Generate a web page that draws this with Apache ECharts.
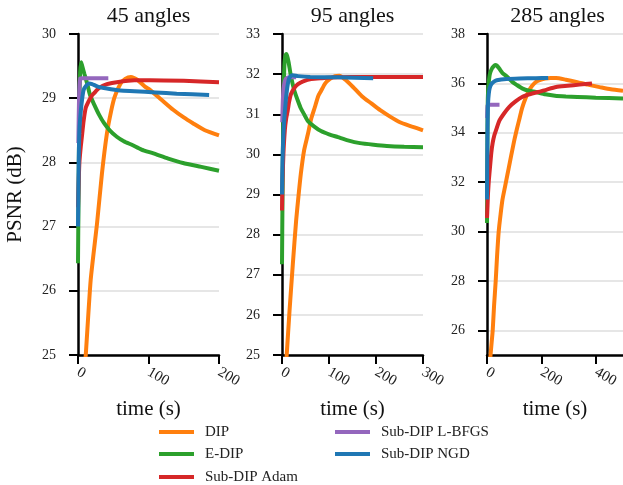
<!DOCTYPE html>
<html>
<head>
<meta charset="utf-8">
<script src="https://cdn.jsdelivr.net/npm/echarts@6/dist/echarts.min.js"></script>
<style>
  html, body { margin: 0; padding: 0; background: #fff; }
  #chart { width: 623px; height: 485px; }
</style>
</head>
<body>
<div id="chart"></div>
<script>
// ---- Data (time in s, PSNR in dB) ----
const panelTitles = ['45 angles', '95 angles', '285 angles'];
const seriesNames = ['DIP', 'E-DIP', 'Sub-DIP Adam', 'Sub-DIP L-BFGS', 'Sub-DIP NGD'];
const xMax = [200, 300, 500];
const xInterval = [100, 100, 200];
const yMax = [30, 33, 38];
const yTicks45 = [25, 26, 27, 28, 29, 30];
const yTicks95 = [25, 26, 27, 28, 29, 30, 31, 32, 33];
const yTicks285 = [26, 28, 30, 32, 34, 36, 38];

// 45 angles
const dip45 = [[8,24.6],[11,25],[18,26.17],[27,27.05],[34,27.83],[41,28.45],[47,28.8],[52,29.02],[60,29.22],[67,29.3],[75,29.33],[85,29.28],[95,29.18],[102,29.13],[118,28.98],[135,28.82],[150,28.7],[163,28.61],[180,28.5],[200,28.42]];
const edip45 = [[0,26.43],[1,27.8],[2,28.9],[3,29.4],[4.5,29.56],[6,29.5],[9,29.38],[13,29.23],[17,29.05],[23,28.9],[30,28.74],[37,28.61],[45,28.5],[55,28.4],[65,28.33],[77,28.27],[90,28.2],[107,28.14],[128,28.06],[149,27.99],[175,27.93],[200,27.87]];
const adam45 = [[0,27.3],[1,27.7],[2,28.0],[4,28.25],[6,28.45],[8,28.65],[11,28.85],[15,28.95],[19,29.03],[23,29.08],[30,29.16],[41,29.22],[55,29.25],[80,29.28],[102,29.28],[150,29.27],[200,29.25]];
const lbfgs45 = [[0.5,28.3],[1.5,29.0],[3,29.3],[5,29.31],[43,29.31]];
const ngd45 = [[0,27.0],[1,28.0],[2,28.5],[4,28.8],[6,29.0],[8,29.13],[12,29.2],[16,29.23],[20,29.22],[28,29.18],[41,29.15],[60,29.12],[80,29.11],[110,29.09],[140,29.07],[186,29.05]];

// 95 angles
const dip95 = [[7,24.5],[10,25],[16,26.1],[23,27.26],[30,28.34],[35,28.95],[40,29.51],[47,30.1],[55,30.5],[62,30.88],[70,31.18],[77,31.45],[83,31.58],[92,31.77],[102,31.88],[113,31.95],[122,31.96],[135,31.86],[151,31.68],[170,31.45],[190,31.27],[209,31.1],[230,30.94],[251,30.8],[275,30.7],[300,30.6]];
const edip95 = [[0,27.26],[1,28.8],[2,30.2],[3.5,31.5],[5,32.2],[7,32.45],[9,32.5],[11,32.45],[14,32.3],[19,31.95],[26,31.6],[34,31.33],[40,31.15],[47,31.0],[55,30.83],[68,30.7],[83,30.58],[100,30.5],[119,30.43],[140,30.35],[166,30.28],[195,30.24],[223,30.21],[260,30.19],[300,30.18]];
const adam95 = [[0,28.6],[1,29.3],[3,30.0],[6,30.6],[9,30.9],[12,31.08],[15,31.3],[19,31.5],[26,31.65],[34,31.75],[45,31.82],[62,31.88],[85,31.9],[119,31.92],[180,31.93],[240,31.93],[300,31.93]];
const lbfgs95 = [[0.5,30.8],[2,31.4],[4,31.7],[8,31.88],[15,31.92],[30,31.92]];
const ngd95 = [[0,29.0],[1,29.8],[3,30.5],[5,30.9],[8,31.33],[11,31.65],[14,31.85],[17,31.93],[22,31.97],[34,31.95],[60,31.93],[119,31.92],[194,31.9]];

// 285 angles
const dip285 = [[10,24.5],[13,25],[17,25.5],[21,26.0],[26,27.0],[32,28.0],[37,29.0],[43,30.0],[50,30.7],[57,31.3],[66,31.8],[75,32.3],[84,32.8],[93,33.3],[102,33.78],[111,34.2],[120,34.6],[129,35.0],[141,35.38],[154,35.7],[166,35.9],[179,36.05],[196,36.14],[214,36.2],[235,36.22],[254,36.22],[290,36.15],[332,36.05],[370,35.95],[414,35.85],[455,35.76],[500,35.7]];
const edip285 = [[0,30.35],[1,32.5],[2,34.5],[3,35.4],[5,35.85],[8,36.2],[11,36.4],[18,36.6],[25,36.7],[30,36.74],[36,36.72],[45,36.6],[57,36.42],[71,36.3],[82,36.18],[93,36.06],[110,35.93],[129,35.8],[154,35.7],[179,35.65],[214,35.56],[250,35.5],[290,35.47],[332,35.45],[400,35.42],[500,35.39]];
const adam285 = [[0,30.55],[2,31.1],[4,31.6],[7,32.1],[11,32.6],[16,33.2],[21,33.6],[27,33.9],[33,34.1],[46,34.5],[64,34.8],[82,35.05],[105,35.27],[129,35.45],[160,35.57],[189,35.65],[220,35.75],[254,35.85],[296,35.9],[340,35.95],[386,36.0]];
const lbfgs285 = [[0.5,34.6],[2,35.1],[4,35.13],[46,35.13]];
const ngd285 = [[0,31.3],[1,33.0],[2,34.3],[3,35.0],[5,35.4],[8,35.7],[12,35.88],[18,36.0],[27,36.08],[36,36.13],[71,36.18],[120,36.2],[180,36.21],[225,36.22]];

const panelData = [
  [dip45, edip45, adam45, lbfgs45, ngd45],
  [dip95, edip95, adam95, lbfgs95, ngd95],
  [dip285, edip285, adam285, lbfgs285, ngd285]
];
const yTickLists = [yTicks45, yTicks95, yTicks285];

// ---- Styles ----
const colors = ['#ff7f0e', '#2ca02c', '#d62728', '#9467bd', '#1f77b4'];
const FONT = '"Liberation Serif", "Times New Roman", serif';
const gridLefts = [78, 282, 487];
const gridTop = 34, gridW = 141, gridH = 321;

const grid = gridLefts.map(l => ({ left: l, top: gridTop, width: gridW, height: gridH }));

const xAxis = gridLefts.map((l, i) => ({
  type: 'value', gridIndex: i, min: 0, max: xMax[i], interval: xInterval[i],
  name: 'time (s)', nameLocation: 'middle', nameGap: 44,
  nameTextStyle: { fontFamily: FONT, fontSize: 21, color: '#111' },
  axisLine: { show: true, lineStyle: { color: '#000', width: 2.5 } },
  axisTick: { show: true, length: 9, lineStyle: { color: '#000', width: 2 } },
  axisLabel: { rotate: -30, margin: 16, fontFamily: FONT, fontSize: 15, color: '#222',
               showMaxLabel: i === 2 ? false : true },
  splitLine: { show: false }
}));

const yAxis = gridLefts.map((l, i) => ({
  type: 'value', gridIndex: i, min: 25, max: yMax[i],
  name: i === 0 ? 'PSNR (dB)' : '', nameLocation: 'middle', nameGap: 52, nameRotate: 90,
  nameTextStyle: { fontFamily: FONT, fontSize: 21, color: '#111' },
  axisLine: { show: true, lineStyle: { color: '#000', width: 2.5 } },
  axisTick: { show: true, length: 9, lineStyle: { color: '#000', width: 2 }, customValues: yTickLists[i] },
  axisLabel: { margin: 22, fontFamily: FONT, fontSize: 14, color: '#222', customValues: yTickLists[i] },
  splitLine: { show: true, lineStyle: { color: '#e6e6e6', width: 2 } }
}));

const series = [];
panelData.forEach((arrs, p) => {
  arrs.forEach((d, k) => {
    series.push({
      name: seriesNames[k], type: 'line', xAxisIndex: p, yAxisIndex: p,
      data: d, showSymbol: false, symbol: 'none', smooth: 0.2,
      lineStyle: { color: colors[k], width: 4 },
      itemStyle: { color: colors[k] },
      emphasis: { disabled: true }, animation: false, clip: true
    });
  });
});

const title = panelTitles.map((t, i) => ({
  text: t, left: gridLefts[i] + gridW / 2, top: 5, textAlign: 'center', padding: 0,
  textStyle: { fontFamily: FONT, fontSize: 22, fontWeight: 'normal', color: '#111' }
}));

// one legend per entry, placed in two columns
const legendLefts = [159, 159, 159, 335, 335];
const legendTops = [424, 446, 469, 424, 446];
const legend = seriesNames.map((n, k) => ({
  data: [n], left: legendLefts[k], top: legendTops[k],
  orient: 'vertical', icon: 'rect', itemWidth: 35, itemHeight: 4,
  padding: 0, selectedMode: false,
  textStyle: { fontFamily: FONT, fontSize: 15, color: '#222', lineHeight: 16, padding: [0, 0, 0, 6] }
}));

const chart = echarts.init(document.getElementById('chart'), null, { renderer: 'canvas' });
chart.setOption({
  backgroundColor: '#fff', animation: false,
  title, legend, grid, xAxis, yAxis, series
});
</script>
</body>
</html>
